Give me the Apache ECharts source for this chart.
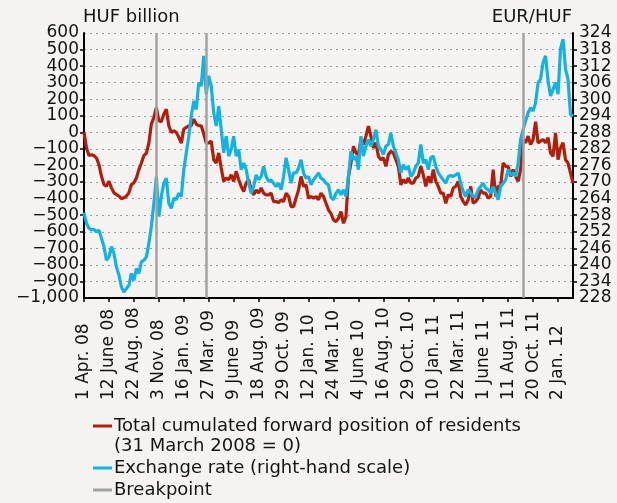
<!DOCTYPE html>
<html>
<head>
<meta charset="utf-8">
<script src="https://cdn.jsdelivr.net/npm/echarts@6/dist/echarts.min.js"></script>
<style>
html,body{margin:0;padding:0;background:#f4f3f1;}
#chart{width:617px;height:503px;}
</style>
</head>
<body>
<div id="chart"></div>
<script>
// Tick labels on the category axis (one every 10 observations)
const tickLabels = ['1 Apr. 08','12 June 08','22 Aug. 08','3 Nov. 08','16 Jan. 09','27 Mar. 09','9 June 09','18 Aug. 09','29 Oct. 09','12 Jan. 10','24 Mar. 10','4 June 10','16 Aug. 10','29 Oct. 10','10 Jan. 11','22 Mar. 11','1 June 11','11 Aug. 11','20 Oct. 11','2 Jan. 12'];
const labelEvery = 10;

// Total cumulated forward position of residents, HUF billion
const forwardPosition = [
0,-95,-140,-135,-140,-155,-195,-265,-315,-325,
-295,-335,-365,-375,-385,-400,-395,-385,-365,-315,
-305,-275,-225,-185,-140,-125,-65,50,90,150,
70,65,110,140,40,0,10,0,-30,-65,
20,30,40,40,80,50,40,40,-10,-65,
-63,-53,-165,-185,-124,-215,-296,-276,-286,-256,
-296,-235,-286,-326,-357,-306,-286,-347,-377,-347,
-367,-336,-367,-377,-377,-367,-418,-418,-424,-407,
-418,-367,-387,-448,-448,-397,-347,-266,-326,-316,
-397,-387,-397,-387,-407,-367,-387,-428,-468,-490,
-529,-539,-519,-478,-549,-509,-266,-185,-84,-124,
-134,-43,-73,-23,38,-23,-94,-63,-144,-165,
-154,-205,-134,-114,-124,-165,-205,-316,-286,-306,
-276,-306,-306,-276,-266,-205,-256,-326,-266,-306,
-225,-296,-326,-367,-367,-428,-377,-387,-336,-326,
-296,-387,-418,-438,-407,-326,-428,-418,-397,-347,
-367,-367,-397,-387,-225,-387,-326,-326,-185,-205,
-205,-266,-225,-266,-296,-225,-43,-63,-23,-73,
-43,64,-63,-53,-43,-63,-33,-124,-144,-3,
-165,-94,-63,-165,-185,-245,-306
];

// EUR/HUF exchange rate (right-hand scale)
const exchangeRate = [
258.9,255.1,253.3,252.7,252.9,252.0,252.6,249.6,246.6,241.7,
242.9,246.6,244.1,239.3,236.3,232.0,230.2,231.4,232.6,236.9,
234.4,238.7,236.9,241.1,241.7,242.9,247.8,253.9,262.3,272.0,
257.5,264.8,269.6,271.4,262.3,260.5,264.2,263.6,266.0,264.8,
274.5,280.6,286.6,294.0,299.4,296.3,306.0,304.8,315.7,301.8,
308.5,304.8,295.1,290.3,297.5,289.0,280.6,286.6,279.4,281.8,
286.6,279.4,281.8,274.5,276.9,274.5,269.6,266.0,268.4,272.6,
270.8,272.0,275.7,272.0,270.2,270.8,269.6,268.4,269.6,267.2,
272.0,278.8,274.5,269.6,273.3,273.3,275.1,278.1,273.3,271.4,
272.0,269.0,270.8,272.0,273.3,271.4,270.8,269.6,269.0,264.4,
263.6,266.0,267.2,265.4,267.2,264.8,272.0,281.2,278.1,279.4,
274.5,286.6,279.4,283.0,285.4,283.0,285.4,289.0,283.0,281.8,
280.0,283.0,283.6,287.8,283.0,280.6,278.1,273.3,276.3,274.5,
275.7,272.0,273.3,275.7,276.9,283.6,276.9,278.1,274.5,278.8,
279.4,275.7,273.3,272.0,270.8,269.6,272.0,272.4,272.0,272.6,
273.3,269.6,266.6,264.8,267.2,266.0,264.8,264.8,267.2,268.4,
269.6,267.8,267.2,266.0,268.4,266.0,263.6,268.4,269.6,270.8,
274.5,272.6,273.3,272.0,276.9,285.4,289.0,292.1,295.1,296.9,
295.7,298.7,306.0,307.3,313.3,315.7,306.7,301.2,303.6,306.0,
301.8,318.2,321.8,310.9,307.3,294.5,293.9
];

// Breakpoints (observation positions)
const breakpoints = [29, 49, 176];

// Axis ranges
const leftMin = -1000, leftMax = 600, leftStep = 100;
const rightMin = 228, rightMax = 324, rightStep = 6;

const categories = forwardPosition.map((_, i) => String(i));

const FONT = 'DejaVu Sans';
const RED = '#b01e0c';
const BLUE = '#12b3e3';
const GRAY = '#a3a3a3';
const TXT = '#141414';

function fmtLeft(v){
  const s = Math.abs(v).toLocaleString('en-US');
  return (v < 0 ? '\u2212' : '') + s;
}

const labelBase = {hideOverlap: false, fontFamily: FONT, fontSize: 17, color: TXT};

const chart = echarts.init(document.getElementById('chart'), null, {renderer:'canvas'});
chart.setOption({
  backgroundColor: '#f4f3f1',
  animation: false,
  grid: {left: 84, right: 44, top: 33, bottom: 205, containLabel: false},
  xAxis: {
    type: 'category',
    data: categories,
    boundaryGap: false,
    axisLine: {onZero: false, lineStyle: {color: '#000', width: 2}},
    axisTick: {show: true, length: 4, interval: (i) => i % labelEvery === 0, lineStyle: {color: '#000', width: 1.5}},
    axisLabel: {
      interval: (i) => i % labelEvery === 0,
      rotate: 90,
      align: 'left',
      margin: 102,
      hideOverlap: false,
      fontFamily: FONT, fontSize: 17, color: TXT,
      formatter: (v, i) => tickLabels[i / labelEvery] || ''
    },
    splitLine: {show: false}
  },
  yAxis: [
    {
      type: 'value', min: leftMin, max: leftMax, interval: leftStep, position: 'left',
      axisLine: {show: true, onZero: false, lineStyle: {color: '#000', width: 2}},
      axisTick: {show: true, length: 4, lineStyle: {color: '#000', width: 1.5}},
      axisLabel: Object.assign({margin: 5, showMinLabel: false, showMaxLabel: false, formatter: fmtLeft}, labelBase),
      splitLine: {show: true, lineStyle: {color: '#9a9a9a', width: 1, type: [2, 4]}}
    },
    {
      type: 'value', min: rightMin, max: rightMax, interval: rightStep, position: 'right',
      axisLine: {show: true, onZero: false, lineStyle: {color: '#000', width: 2}},
      axisTick: {show: true, length: 4, lineStyle: {color: '#000', width: 1.5}},
      axisLabel: Object.assign({margin: 6, showMinLabel: false, showMaxLabel: false}, labelBase),
      splitLine: {show: false}
    },
    {
      type: 'value', min: leftMin, max: leftMax, interval: leftStep, position: 'left',
      axisLine: {show: false}, axisTick: {show: false}, splitLine: {show: false},
      axisLabel: Object.assign({margin: 5, showMinLabel: true, showMaxLabel: true,
        formatter: v => (v === leftMin || v === leftMax) ? fmtLeft(v) : ''}, labelBase)
    },
    {
      type: 'value', min: rightMin, max: rightMax, interval: rightStep, position: 'right',
      axisLine: {show: false}, axisTick: {show: false}, splitLine: {show: false},
      axisLabel: Object.assign({margin: 6, showMinLabel: true, showMaxLabel: true,
        formatter: v => (v === rightMin || v === rightMax) ? String(v) : ''}, labelBase)
    }
  ],
  series: [
    {
      name: 'Total cumulated forward position of residents',
      type: 'line', yAxisIndex: 0, data: forwardPosition,
      showSymbol: false, symbol: 'none',
      lineStyle: {color: RED, width: 3.2}, itemStyle: {color: RED},
      z: 3,
      markLine: {
        silent: true, symbol: ['none', 'none'],
        label: {show: false},
        lineStyle: {color: GRAY, width: 2.5, type: 'solid'},
        data: breakpoints.map(b => ({xAxis: b}))
      }
    },
    {
      name: 'Exchange rate (right-hand scale)',
      type: 'line', yAxisIndex: 1, data: exchangeRate,
      showSymbol: false, symbol: 'none',
      lineStyle: {color: BLUE, width: 3.2}, itemStyle: {color: BLUE},
      z: 4
    }
  ],
  graphic: [
    {type: 'text', left: 83, top: 8, style: {text: 'HUF billion', font: '18px "DejaVu Sans"', fill: TXT}},
    {type: 'text', right: 45, top: 8, style: {text: 'EUR/HUF', font: '18px "DejaVu Sans"', fill: TXT}},
    {type: 'line', shape: {x1: 93, y1: 426, x2: 112, y2: 426}, style: {stroke: RED, lineWidth: 3}},
    {type: 'text', x: 114, y: 426, style: {text: 'Total cumulated forward position of residents', font: '18px "DejaVu Sans"', fill: TXT, verticalAlign: 'middle'}},
    {type: 'text', x: 114, y: 446, style: {text: '(31 March 2008 = 0)', font: '18px "DejaVu Sans"', fill: TXT, verticalAlign: 'middle'}},
    {type: 'line', shape: {x1: 93, y1: 468, x2: 112, y2: 468}, style: {stroke: BLUE, lineWidth: 3}},
    {type: 'text', x: 114, y: 468, style: {text: 'Exchange rate (right-hand scale)', font: '18px "DejaVu Sans"', fill: TXT, verticalAlign: 'middle'}},
    {type: 'line', shape: {x1: 93, y1: 490, x2: 112, y2: 490}, style: {stroke: GRAY, lineWidth: 3}},
    {type: 'text', x: 114, y: 490, style: {text: 'Breakpoint', font: '18px "DejaVu Sans"', fill: TXT, verticalAlign: 'middle'}}
  ]
});
</script>
</body>
</html>
